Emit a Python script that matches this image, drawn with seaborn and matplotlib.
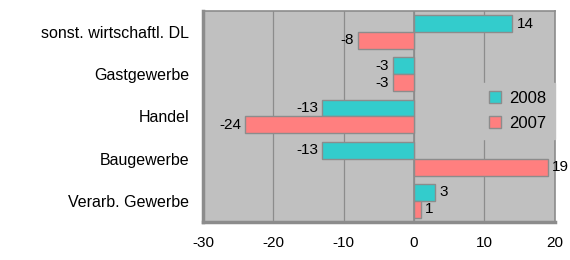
import matplotlib
matplotlib.use("Agg")
import matplotlib.pyplot as plt
import seaborn as sns
import pandas as pd
import numpy as np

categories = ["sonst. wirtschaftl. DL", "Gastgewerbe", "Handel", "Baugewerbe", "Verarb. Gewerbe"]
values_2008 = [14, -3, -13, -13, 3]
values_2007 = [-8, -3, -24, 19, 1]
series = ["2008", "2007"]
x_ticks = [-30, -20, -10, 0, 10, 20]

df = pd.DataFrame({
    "Branche": categories * 2,
    "Wert": values_2008 + values_2007,
    "Jahr": [series[0]] * len(categories) + [series[1]] * len(categories),
})

sns.set_theme(style="white")
plt.rcParams["font.family"] = ["Liberation Sans", "DejaVu Sans"]
plt.rcParams["text.color"] = "black"

FS = 11
fig = plt.figure(figsize=(5.7, 2.6), dpi=100)
ax = fig.add_axes([0.356, 0.146, 0.617, 0.812])
ax.set_facecolor("#C0C0C0")

palette = {"2008": "#33CCCC", "2007": "#FF7F7F"}
sns.barplot(data=df, y="Branche", x="Wert", hue="Jahr", hue_order=series,
            order=categories, palette=palette, orient="h", width=0.8,
            edgecolor="#8C8C8C", linewidth=1.0, saturation=1, ax=ax, zorder=3)

for cont in ax.containers:
    ax.bar_label(cont, padding=3, fontsize=FS, color="black")

ax.set_xlim(-30, 20)
ax.set_xticks(x_ticks)
ax.set_xticklabels([str(t) for t in x_ticks], fontsize=FS)
ax.set_ylim(len(categories) - 0.5, -0.5)
ax.set_yticks(range(len(categories)))
ax.set_yticklabels(categories, fontsize=11.5)
ax.tick_params(axis="y", length=0, pad=10, labelcolor="black")
ax.set_yticks(np.arange(-0.5, len(categories), 1.0), minor=True)
ax.tick_params(axis="y", which="minor", length=5, color="#8C8C8C", width=1)
ax.tick_params(axis="x", length=5, color="#8C8C8C", width=1, direction="out", pad=5,
               labelcolor="black")
ax.xaxis.grid(True, color="#8C8C8C", linewidth=0.9, zorder=0)
ax.set_axisbelow(True)
ax.axvline(0, color="#8C8C8C", linewidth=1.2, zorder=2)
ax.set_xlabel("")
ax.set_ylabel("")

for side in ["top", "right"]:
    ax.spines[side].set_color("#8C8C8C")
    ax.spines[side].set_linewidth(1.2)
for side in ["left", "bottom"]:
    ax.spines[side].set_color("#8C8C8C")
    ax.spines[side].set_linewidth(2.5)

leg = ax.legend(loc="upper left", bbox_to_anchor=(0.79, 0.66), frameon=True,
                borderaxespad=0,
                fontsize=FS + 1, handlelength=0.7, handleheight=0.7,
                borderpad=0.5, labelspacing=0.6, handletextpad=0.5,
                fancybox=False)
leg.get_frame().set_facecolor("#C0C0C0")
leg.get_frame().set_edgecolor("#C0C0C0")
leg.get_frame().set_alpha(1)
leg.set_zorder(5)
for t in leg.get_texts():
    t.set_color("black")

fig.savefig("out.png", dpi=100, facecolor="white")
